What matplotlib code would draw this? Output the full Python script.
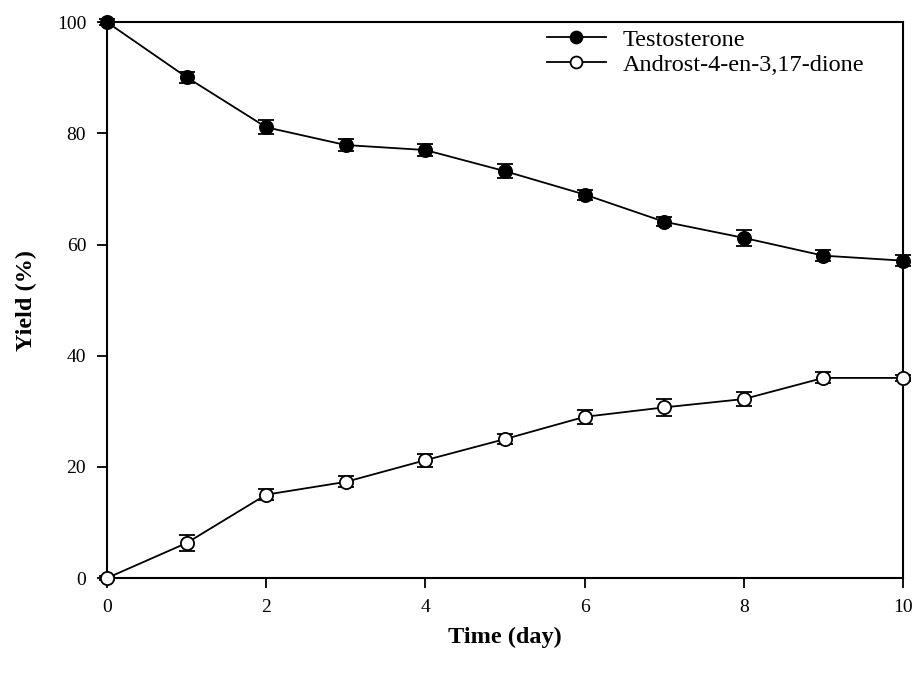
import matplotlib
matplotlib.use("Agg")
import matplotlib.pyplot as plt

days = [0, 1, 2, 3, 4, 5, 6, 7, 8, 9, 10]
testosterone = [100, 90.1, 81.1, 77.9, 77.0, 73.2, 69.0, 64.1, 61.2, 58.0, 57.1]
testosterone_err = [0.5, 1.0, 1.3, 1.0, 1.0, 1.3, 0.9, 0.8, 1.4, 1.0, 1.0]
androstenedione = [0, 6.3, 15.0, 17.3, 21.2, 25.0, 29.0, 30.7, 32.2, 36.0, 36.0]
androstenedione_err = [0.3, 1.5, 1.0, 1.0, 1.2, 0.9, 1.2, 1.5, 1.3, 1.0, 0.5]

plt.rcParams["font.family"] = ["Liberation Serif", "DejaVu Serif"]

fig = plt.figure(figsize=(9.18, 6.77), dpi=100)
ax = fig.add_axes([0.1166, 0.1462, 0.867, 0.821])

style = dict(color="black", marker="o", markersize=9.5, markeredgecolor="black",
             markeredgewidth=1.3, linewidth=1.3, capsize=6, capthick=1.8,
             elinewidth=1.3, clip_on=False, zorder=3)
ax.errorbar(days, testosterone, yerr=testosterone_err, markerfacecolor="black",
            label="Testosterone", **style)
ax.errorbar(days, androstenedione, yerr=androstenedione_err, markerfacecolor="white",
            label="Androst-4-en-3,17-dione", **style)

ax.set_xlim(0, 10)
ax.set_ylim(0, 100)
ax.set_xticks([0, 2, 4, 6, 8, 10])
ax.set_yticks([0, 20, 40, 60, 80, 100])
ax.tick_params(direction="out", length=7, width=1.3, labelsize=14, pad=8)
for spine in ax.spines.values():
    spine.set_linewidth(1.5)

ax.set_xlabel("Time (day)", fontsize=17.5, fontweight="bold", labelpad=8)
ax.set_ylabel("Yield (%)", fontsize=17.5, fontweight="bold", labelpad=14)

handles, labels = ax.get_legend_handles_labels()
handles = [h[0] for h in handles]
ax.legend(handles, labels, loc="upper left", bbox_to_anchor=(0.553, 0.988),
          borderaxespad=0, borderpad=0, frameon=False, fontsize=17.5,
          handlelength=2.4, handletextpad=0.7, labelspacing=0.12, markerscale=0.9)

fig.savefig("out.png", dpi=100)
